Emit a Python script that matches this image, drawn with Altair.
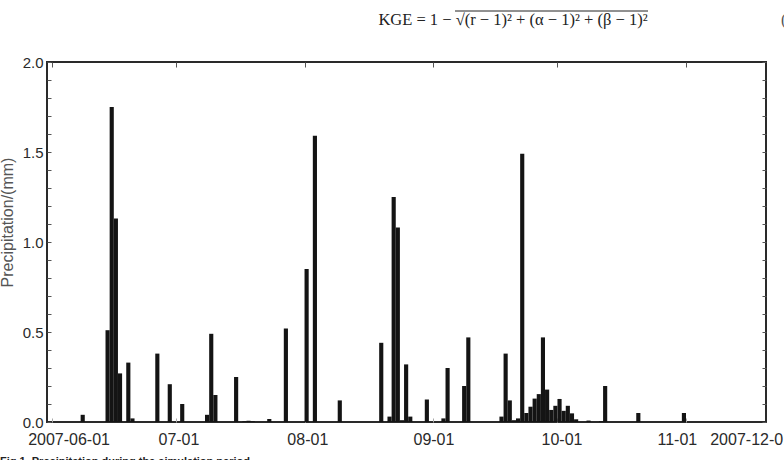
import altair as alt
import pandas as pd

# ---- data (daily precipitation, mm) ----
dates = [
    "2007-06-08", "2007-06-14", "2007-06-15", "2007-06-16", "2007-06-17",
    "2007-06-19", "2007-06-20", "2007-06-26", "2007-06-29", "2007-07-02",
    "2007-07-08", "2007-07-09", "2007-07-10", "2007-07-15", "2007-07-17",
    "2007-07-18", "2007-07-19", "2007-07-23", "2007-07-27", "2007-08-01",
    "2007-08-03", "2007-08-09", "2007-08-19", "2007-08-21", "2007-08-22",
    "2007-08-23", "2007-08-24", "2007-08-25", "2007-08-26", "2007-08-30",
    "2007-09-03", "2007-09-04", "2007-09-08", "2007-09-09", "2007-09-17",
    "2007-09-18", "2007-09-19", "2007-09-20", "2007-09-21", "2007-09-22",
    "2007-09-23", "2007-09-24", "2007-09-25", "2007-09-26", "2007-09-27",
    "2007-09-28", "2007-09-29", "2007-09-30", "2007-10-01", "2007-10-02",
    "2007-10-03", "2007-10-04", "2007-10-05", "2007-10-08", "2007-10-11",
    "2007-10-12", "2007-10-20", "2007-10-31",
]
precip = [
    0.04, 0.51, 1.75, 1.13, 0.27,
    0.33, 0.02, 0.38, 0.21, 0.10,
    0.04, 0.49, 0.15, 0.25, 0.004,
    0.007, 0.004, 0.017, 0.52, 0.85,
    1.59, 0.12, 0.44, 0.03, 1.25,
    1.08, 0.01, 0.32, 0.03, 0.125,
    0.02, 0.30, 0.20, 0.47, 0.03,
    0.38, 0.12, 0.01, 0.02, 1.49,
    0.05, 0.085, 0.13, 0.155, 0.47,
    0.18, 0.067, 0.09, 0.128, 0.062,
    0.09, 0.048, 0.015, 0.008, 0.004,
    0.20, 0.05, 0.05,
]

# month tick marks and the bottom tick labels (text and where they sit)
month_ticks = ["2007-06-01", "2007-07-01", "2007-08-01", "2007-09-01",
               "2007-10-01", "2007-11-01"]
x_label_text = ["2007-06-01", "07-01", "08-01", "09-01", "10-01", "11-01",
                "2007-12-01"]
x_label_pos = ["2007-06-05T05:00:00", "2007-07-01T17:00:00",
               "2007-08-01T19:00:00", "2007-09-01T05:00:00",
               "2007-10-02T02:00:00", "2007-10-29T22:00:00",
               "2007-11-16T17:00:00"]
y_ticks = [0.0, 0.1, 0.2, 0.3, 0.4, 0.5, 0.6, 0.7, 0.8, 0.9, 1.0,
           1.1, 1.2, 1.3, 1.4, 1.5, 1.6, 1.7, 1.8, 1.9, 2.0]

formula_text = "KGE = 1 \u2212 \u221a(r \u2212 1)\u00b2 + (\u03b1 \u2212 1)\u00b2 + (\u03b2 \u2212 1)\u00b2"
caption_text = "Fig 1.  Precipitation during the simulation period"

# ---- tables ----
bars = pd.DataFrame({"date": pd.to_datetime(dates), "precip": precip})
bars["date_end"] = bars["date"] + pd.Timedelta(days=1)
labels_df = pd.DataFrame({"pos": pd.to_datetime(x_label_pos), "text": x_label_text})

month_vals = [alt.DateTime(year=int(m[:4]), month=int(m[5:7]), date=int(m[8:10]))
              for m in month_ticks]

xscale = alt.Scale(domain=[alt.DateTime(year=2007, month=5, date=30, hours=21, minutes=20),
                           alt.DateTime(year=2007, month=11, date=20, hours=7)])
yscale = alt.Scale(domain=[0, 2], nice=False, zero=True)

FONT = "Liberation Sans"
label_expr = "abs(datum.value*2 - round(datum.value*2)) < 0.001 ? format(datum.value, '.1f') : ''"

bar_layer = alt.Chart(bars).mark_bar(color="#141414").encode(
    x=alt.X("date:T", scale=xscale,
            axis=alt.Axis(orient="bottom", values=month_vals, labels=False, domain=False,
                          grid=False, tickSize=4, offset=-4, tickColor="#aaaaaa", title=None)),
    x2="date_end:T",
    y=alt.Y("precip:Q", scale=yscale,
            axis=alt.Axis(orient="left", values=y_ticks, labelExpr=label_expr,
                          domain=False, grid=False, tickSize=4, offset=-4,
                          tickColor="#555555", labelFontSize=15, labelFont=FONT,
                          labelColor="#2a2a2a", labelPadding=4, labelOverlap=False,
                          title="Precipitation/(mm)", titleFont=FONT, titleFontSize=16,
                          titleFontWeight="normal", titleColor="#555555",
                          titleX=-44, titleY=160, titleBaseline="middle",
                          titleAlign="center", titleAngle=270)),
    y2=alt.Y2Datum(0),
)

frame_layer = alt.Chart(bars).mark_bar(opacity=0).encode(
    x=alt.X("date:T", scale=xscale,
            axis=alt.Axis(orient="top", values=month_vals, labels=False, domain=False,
                          grid=False, tickSize=5, offset=-5, tickColor="#555555", title=None)),
    x2="date_end:T",
    y=alt.Y("precip:Q", scale=yscale,
            axis=alt.Axis(orient="right", values=y_ticks, labels=False, domain=False,
                          grid=False, tickSize=4, offset=-4, tickColor="#555555", title=None)),
    y2=alt.Y2Datum(0),
)

xlabel_layer = alt.Chart(labels_df).mark_text(
    font=FONT, fontSize=16, color="#2a2a2a", baseline="alphabetic", align="center", dy=23
).encode(
    x=alt.X("pos:T", scale=xscale, axis=None),
    y=alt.YDatum(0, scale=yscale, axis=None),
    text="text:N",
)

formula_layer = alt.Chart(pd.DataFrame({"t": [formula_text]})).mark_text(
    font="Liberation Serif", fontSize=16.5, color="#222222", align="center", baseline="middle"
).encode(x=alt.value(466), y=alt.value(-42), text="t:N")

# vinculum (top bar) of the square-root sign in the formula
radical_bar = alt.Chart(pd.DataFrame({"t": [1]})).mark_rule(
    color="#222222", strokeWidth=1
).encode(x=alt.value(408), x2=alt.value(601), y=alt.value(-51))

paren_layer = alt.Chart(pd.DataFrame({"t": ["("]})).mark_text(
    font="Liberation Serif", fontSize=16, color="#555555", align="left", baseline="middle"
).encode(x=alt.value(734), y=alt.value(-42), text="t:N")

caption_layer = alt.Chart(pd.DataFrame({"t": [caption_text]})).mark_text(
    font=FONT, fontSize=11, fontWeight="bold", color="#222222", align="left", baseline="top"
).encode(x=alt.value(-47), y=alt.value(394), text="t:N")

chart = alt.layer(
    bar_layer, frame_layer, xlabel_layer, formula_layer, radical_bar, paren_layer,
    caption_layer
).resolve_axis(x="independent", y="independent").properties(
    width=719, height=360,
    autosize=alt.AutoSizeParams(type="none"),
    padding={"left": 47, "top": 62, "right": 18, "bottom": 38},
    background="white",
).configure_view(stroke="#2a2a2a", strokeWidth=2)

chart.save("out.html", embed_options={"renderer": "svg", "actions": False})
